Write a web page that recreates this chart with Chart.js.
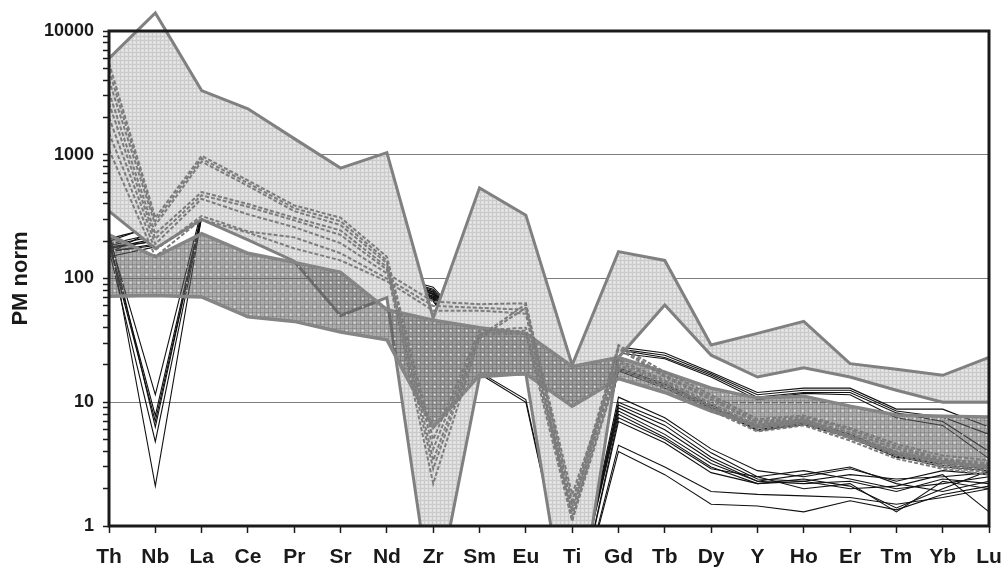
<!DOCTYPE html>
<html>
<head>
<meta charset="utf-8">
<script src="https://cdn.jsdelivr.net/npm/chart.js@4.4.1/dist/chart.umd.min.js"></script>
<style>
  html, body { margin: 0; padding: 0; background: #fff; }
</style>
</head>
<body>
<canvas id="spider" width="1006" height="575"></canvas>
<script>
/* PM-normalised spider diagram: two envelopes + sample patterns (log y) */

const ELEMENTS = ["Th","Nb","La","Ce","Pr","Sr","Nd","Zr","Sm","Eu","Ti","Gd","Tb","Dy","Y","Ho","Er","Tm","Yb","Lu"];
const Y_LABELS = [1, 10, 100, 1000, 10000];

// light (dotted) envelope
const LIGHT_UPPER = [6000, 14000, 3300, 2350, 1350, 780, 1040, 48, 540, 325, 20, 165, 140, 29, 36, 45, 20.5, 18.5, 16.5, 23];
const LIGHT_LOWER = [350, 175, 300, 205, 138, 50, 70, 0.2, 16, 17, 0.09, 23, 61, 24, 16, 19, 16, 12.5, 10, 10];

// dark (gridded) envelope
const DARK_UPPER = [225, 150, 230, 160, 135, 112, 56, 46, 40, 36, 19.5, 23, 17.5, 13, 10.8, 11.2, 9.3, 7.9, 7.7, 7.6];
const DARK_LOWER = [72, 73, 71, 49, 45, 37, 32, 6.3, 16.6, 17, 9.3, 15.5, 12, 8.5, 6.5, 7.2, 5.2, 3.9, 3.3, 3.0];

// black sample lines
const BLACK_SAMPLES = [
  [220, 11.5, 360, 290, 220, 190, 105, 80, 30, 22, 0.2, 11, 7.5, 4.2, 2.8, 2.5, 2.9, 2.3, 2.8, 2.6],
  [200, 7.8, 340, 280, 210, 180, 100, 75, 28, 20, 0.2, 10, 7, 3.9, 2.5, 2.8, 2.4, 2.0, 2.2, 2.5],
  [190, 7, 320, 270, 200, 170, 96, 72, 26, 19, 0.2, 9.5, 6.5, 3.6, 2.4, 2.3, 2.6, 2.4, 2.5, 2.7],
  [240, 6.3, 330, 275, 205, 175, 98, 70, 25, 18, 0.2, 9, 6, 3.4, 2.3, 2.2, 2.3, 1.9, 2.4, 2.2],
  [170, 4.8, 310, 250, 190, 165, 92, 68, 17, 10, 0.2, 8.5, 5.5, 3.2, 2.3, 2.6, 3.0, 2.2, 1.9, 2.3],
  [230, 2.1, 315, 255, 195, 168, 94, 66, 17.5, 10.5, 0.2, 8, 5.2, 3.0, 2.2, 2.4, 2.1, 1.4, 2.0, 2.8],
  [200, 270, 350, 285, 215, 185, 102, 78, 24, 18, 0.15, 7.5, 5, 2.9, 2.5, 2.0, 2.2, 1.3, 2.3, 2.0],
  [160, 250, 340, 280, 210, 180, 100, 74, 23, 18, 0.15, 7, 4.7, 2.7, 2.2, 2.3, 2.0, 2.1, 2.6, 1.3],
  [180, 200, 330, 270, 205, 175, 97, 70, 22, 18, 0.15, 4.5, 3.0, 1.9, 1.8, 1.75, 1.7, 1.5, 1.7, 2.0],
  [150, 180, 310, 250, 190, 165, 93, 66, 21, 18, 0.15, 4, 2.6, 1.5, 1.45, 1.3, 1.6, 1.35, 1.8, 2.1],
  [210, 260, 360, 300, 225, 195, 108, 85, 33, 30, 0.3, 28, 25, 17.5, 12, 13, 13, 8.8, 8.8, 6.3],
  [190, 230, 350, 290, 220, 190, 105, 82, 32, 29, 0.3, 27, 24, 17, 11.5, 12.5, 12.5, 8.5, 7.6, 5.5],
  [175, 210, 340, 285, 215, 185, 103, 78, 31, 28, 0.3, 26.5, 23, 16.5, 11, 12, 12, 8.2, 7, 4],
  [165, 190, 330, 275, 210, 180, 100, 76, 30, 27, 0.3, 25, 22.5, 16, 10.5, 11.8, 11.5, 7.5, 6.5, 3.5],
  [185, 220, 320, 265, 200, 172, 96, 72, 28, 25, 0.4, 19, 14, 9.5, 6.2, 7.0, 5.5, 3.8, 3.1, 2.9],
  [175, 200, 315, 260, 195, 170, 95, 70, 27, 24, 0.4, 18.5, 13.5, 9.2, 6.0, 6.8, 5.3, 3.7, 3.0, 2.8],
  [165, 185, 310, 255, 190, 165, 92, 68, 26, 23, 0.4, 18, 13, 9.0, 5.9, 6.6, 5.2, 3.6, 3.2, 3.0]
];

// grey dashed sample lines
const GREY_SAMPLES = [
  [5500, 310, 980, 620, 390, 310, 150, 5, 38, 40, 1.5, 29, 17.5, 11.5, 7.3, 7.8, 6.2, 4.6, 3.7, 3.4],
  [4800, 290, 930, 590, 370, 290, 140, 4.2, 36, 38, 1.3, 28, 16.5, 11, 7.0, 7.6, 6.0, 4.4, 3.5, 3.2],
  [4000, 270, 880, 560, 350, 270, 133, 3.4, 35, 36, 1.1, 27, 16, 10.5, 6.8, 7.3, 5.7, 4.2, 3.4, 3.1],
  [3200, 230, 500, 400, 310, 245, 124, 2.9, 34, 62, 1.8, 22, 15, 9.8, 6.5, 7.1, 5.5, 4.0, 3.3, 3.0],
  [2600, 210, 470, 380, 295, 225, 118, 2.2, 33, 58, 1.6, 21, 14.5, 9.4, 6.3, 6.9, 5.3, 3.9, 3.2, 2.9],
  [2000, 190, 440, 330, 260, 193, 110, 65, 62, 63, 1.4, 20, 14, 9.2, 6.2, 6.9, 5.3, 3.8, 3.1, 2.8],
  [1500, 170, 320, 240, 215, 160, 100, 60, 58, 56, 1.2, 19, 13.5, 8.9, 6.0, 6.7, 5.1, 3.7, 3.0, 2.7],
  [1100, 150, 300, 235, 175, 140, 95, 55, 55, 52, 1.1, 18.5, 13, 8.6, 5.8, 6.5, 4.9, 3.5, 2.9, 2.6]
];

const FONT = "'Liberation Sans', Arial, sans-serif";
const INK = "#1a1a1a";
const EDGE = "#808080";

// small repeating fills that imitate the spreadsheet hatch patterns
function tile(size, paint){
  const c = document.createElement("canvas");
  c.width = size; c.height = size;
  const g = c.getContext("2d");
  paint(g, size);
  return g.createPattern(c, "repeat");
}
const lightFill = tile(4, (g, s) => {
  g.fillStyle = "#dedede"; g.fillRect(0, 0, s, s);
  g.fillStyle = "#cbcbcb"; g.fillRect(0, 0, s, 1); g.fillRect(0, 0, 1, s);
  g.fillStyle = "#f2f2f2"; g.fillRect(2, 2, 1, 1);
});
const darkFill = tile(8, (g, s) => {
  g.fillStyle = "rgba(95,95,95,0.52)"; g.fillRect(0, 0, s, s);
  g.fillStyle = "rgba(70,70,70,0.25)";
  g.fillRect(0, 0, s, 1); g.fillRect(0, 4, s, 1);
  g.fillRect(0, 0, 1, s); g.fillRect(4, 0, 1, s);
  g.fillStyle = "rgba(255,255,255,0.75)"; g.fillRect(2, 2, 1.5, 1.5);
});

const datasets = [];
BLACK_SAMPLES.forEach((d, i) => datasets.push({
  label: "sample " + (i + 1), data: d,
  borderColor: "#111", borderWidth: 1.1, pointRadius: 0, fill: false, order: 100
}));
datasets.push({
  label: "envelope A max", data: LIGHT_UPPER, borderColor: EDGE, borderWidth: 3,
  backgroundColor: lightFill, fill: "+1", pointRadius: 0, order: 60,
  clip: {left: 0, top: false, right: 0, bottom: 0}
});
datasets.push({
  label: "envelope A min", data: LIGHT_LOWER, borderColor: EDGE, borderWidth: 3,
  fill: false, pointRadius: 0, order: 59
});
datasets.push({
  label: "envelope B max", data: DARK_UPPER, borderColor: "#858585", borderWidth: 3.5,
  backgroundColor: darkFill, fill: "+1", pointRadius: 0, order: 50
});
datasets.push({
  label: "envelope B min", data: DARK_LOWER, borderColor: "#858585", borderWidth: 3.5,
  fill: false, pointRadius: 0, order: 49
});
GREY_SAMPLES.forEach((d, i) => datasets.push({
  label: "grey " + (i + 1), data: d,
  borderColor: "#7c7c7c", borderWidth: 2, borderDash: [4, 2],
  pointRadius: 0, fill: false, order: 10
}));

// thick plot frame from 1 to 10000
const frame = {
  id: "frame",
  afterDatasetsDraw(chart){
    const {ctx, chartArea: a, scales: {y}} = chart;
    const top = y.getPixelForValue(Y_LABELS[Y_LABELS.length - 1]);
    const bottom = y.getPixelForValue(Y_LABELS[0]);
    ctx.save();
    ctx.strokeStyle = INK; ctx.lineWidth = 3;
    ctx.strokeRect(a.left, top, a.right - a.left, bottom - top);
    ctx.restore();
  }
};

const inner = Y_LABELS.slice(1, -1);

new Chart(document.getElementById("spider"), {
  type: "line",
  data: {labels: ELEMENTS, datasets},
  plugins: [frame],
  options: {
    responsive: false, animation: false, devicePixelRatio: 1,
    layout: {padding: {top: 31, right: 17, left: 0, bottom: 0}},
    elements: {line: {tension: 0}},
    plugins: {legend: {display: false}, tooltip: {enabled: false}},
    scales: {
      x: {
        offset: false,
        grid: {drawOnChartArea: false, drawTicks: true, tickLength: 7, tickColor: INK, tickWidth: 1.5},
        border: {display: false},
        ticks: {color: INK, font: {family: FONT, size: 21, weight: "bold", lineHeight: 2.0}, padding: 3, maxRotation: 0, autoSkip: false},
        afterFit: s => { s.height = 49; }
      },
      y: {
        type: "logarithmic", min: 1, max: 10000,
        afterBuildTicks: s => {
          const t = [];
          for (let k = 0; k < Y_LABELS.length - 1; k++)
            for (let m = 1; m < 10; m++) t.push({value: m * Y_LABELS[k], major: m === 1});
          t.push({value: Y_LABELS[Y_LABELS.length - 1], major: true});
          s.ticks = t;
        },
        grid: {
          color: c => (c.tick && inner.includes(c.tick.value)) ? "#7d7d7d" : "rgba(0,0,0,0)",
          lineWidth: 1, drawTicks: true, tickLength: 6, tickColor: INK, tickWidth: 1.5
        },
        border: {display: false},
        ticks: {
          color: INK, font: {family: FONT, size: 18, weight: "bold"}, padding: 9, autoSkip: false,
          callback: v => Y_LABELS.includes(v) ? String(v) : ""
        },
        title: {display: true, text: "PM norm", color: INK, font: {family: FONT, size: 22, weight: "bold"}, padding: {top: 8, bottom: 0}},
        afterFit: s => { s.width = 109; }
      }
    }
  }
});
</script>
</body>
</html>
